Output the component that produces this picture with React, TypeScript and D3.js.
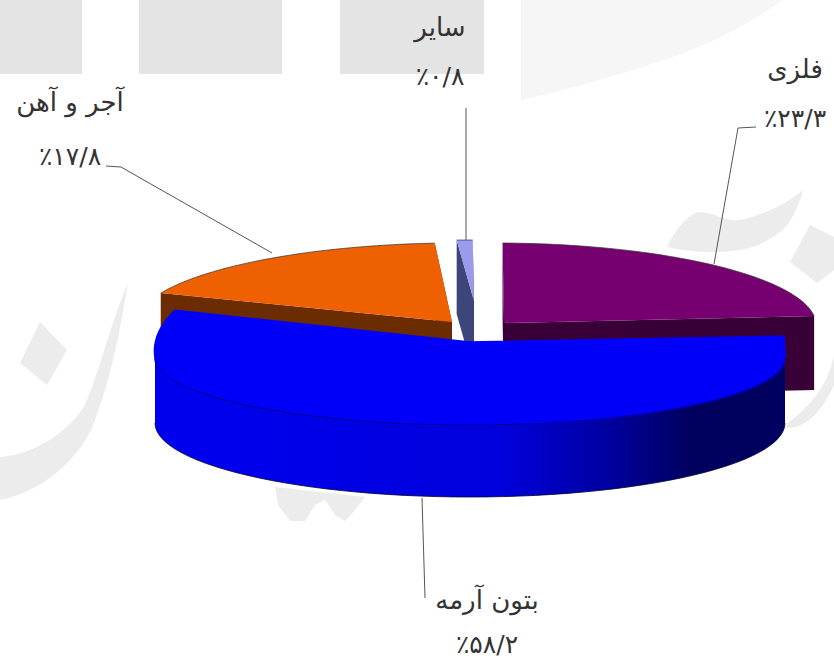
import React from 'react';
import * as d3 from 'd3';

const categories = ['بتون آرمه', 'آجر و آهن', 'سایر', 'فلزی'];
const shares = [58.2, 17.8, 0.8, 23.3];
const percentLabels = ['٪۵۸/۲', '٪۱۷/۸', '٪۰/۸', '٪۲۳/۳'];

const width = 834;
const height = 663;
const DEG = Math.PI / 180;

// pie angles from d3, clockwise from 12 o'clock, rotated so the big slice starts near 3 o'clock
const pie = d3.pie<number>().sort(null).startAngle(85 * DEG).endAngle(445 * DEG);
const arcs = pie(shares);

type Geo = { ax: number; ay: number; rx: number; ry: number; cy: number; ky: number };
const SKEW_X = 8;
const DEPTH = 74;

// apex (ax, ay) is where the exploded slice comes to a point
const geo: Geo[] = [
  { ax: 470, ay: 342, rx: 315, ry: 67, cy: 358, ky: 0 },
  { ax: 452, ay: 322, rx: 316, ry: 79, cy: 322, ky: -4 },
  { ax: 474, ay: 301, rx: 320, ry: 61, cy: 301, ky: 0 },
  { ax: 504, ay: 323, rx: 312, ry: 80, cy: 323, ky: 0 },
];

const rimPoint = (g: Geo, a: number, skew = SKEW_X): [number, number] => {
  const t = a - Math.PI / 2;
  return [
    g.ax + g.rx * Math.cos(t) + skew * Math.sin(t),
    g.cy + g.ry * Math.sin(t) + g.ky * Math.cos(t),
  ];
};

const rim = (g: Geo, a0: number, a1: number, n = 60, skew = SKEW_X) =>
  d3.range(n + 1).map(i => rimPoint(g, a0 + ((a1 - a0) * i) / n, skew));

const line = d3.line();
const down = (p: [number, number], d: number): [number, number] => [p[0], p[1] + d];

const Slice = ({ i, face, wall }: { i: number; face: string; wall: string }) => {
  const g = geo[i];
  const { startAngle: a0, endAngle: a1 } = arcs[i];
  const apex: [number, number] = [g.ax, g.ay];
  const edge = rim(g, a0, a1);
  const first = edge[0];
  const last = edge[edge.length - 1];
  const cutA = [first, apex, down(apex, DEPTH), down(first, DEPTH)] as [number, number][];
  const cutB = [last, apex, down(apex, DEPTH), down(last, DEPTH)] as [number, number][];
  return (
    <g>
      <path d={line(cutA) ?? ''} fill={wall} />
      <path d={line(cutB) ?? ''} fill={wall} />
      <path d={(line([apex, ...edge]) ?? '') + 'Z'} fill={face} />
      <path d={line(edge) ?? ''} fill="none" stroke="#333" strokeWidth={0.7} />
    </g>
  );
};

const BlueSlice = () => {
  const g = geo[0];
  const { startAngle: a0, endAngle: a1 } = arcs[0];
  const apex: [number, number] = [g.ax, g.ay];
  const right = 90 * DEG;
  const left = 270 * DEG;
  const front = rim(g, right, left, 60, 0);
  // both corners of the big slice rise much faster than the plain ellipse
  const rightShoulder = rim({ ...g, ry: 250 }, a0, right, 10, 0);
  const leftShoulder = rim({ ...g, ry: 116 }, left, a1, 16, 0).map(
    (p, k): [number, number] => [p[0] - 8 * (k / 16), p[1]],
  );
  const bottom = rim({ ...g, cy: 423, ry: 74 }, right, left, 60, 0);
  const wallPath = [...front.slice().reverse(), ...bottom];
  return (
    <g>
      <path d={(line(wallPath) ?? '') + 'Z'} fill="url(#blueSide)" />
      <path d={line(bottom) ?? ''} fill="none" stroke="#000030" strokeWidth={0.8} />
      <path
        d={(line([apex, ...rightShoulder, ...front, ...leftShoulder]) ?? '') + 'Z'}
        fill="#0000fa"
        stroke="#0000fa"
        strokeWidth={1.5}
        strokeLinejoin="round"
      />
      <path d={line(front) ?? ''} fill="none" stroke="#000088" strokeWidth={1} />
    </g>
  );
};

const leaders: [number, number][][] = [
  [[422, 498], [425, 598]],
  [[106, 166], [121, 167], [272, 253]],
  [[466, 108], [466, 240]],
  [[756, 127], [738, 128], [714, 264]],
];

const labelPos = [
  { x: 487, name: 601, pct: 646 },
  { x: 70, name: 103, pct: 158 },
  { x: 440, name: 28, pct: 78 },
  { x: 795, name: 70, pct: 120 },
];

export default function App() {
  return (
    <svg
      width={width}
      height={height}
      viewBox={`0 0 ${width} ${height}`}
      style={{ position: 'absolute', left: 0, top: 0, background: '#fff' }}
    >
      <defs>
        <linearGradient id="blueSide" x1="0" x2="1" y1="0" y2="0">
          <stop offset="0" stopColor="#0000f0" />
          <stop offset="0.55" stopColor="#0000dc" />
          <stop offset="0.72" stopColor="#0000a0" />
          <stop offset="0.85" stopColor="#00005e" />
          <stop offset="1" stopColor="#000060" />
        </linearGradient>
      </defs>

      {/* faint watermark behind the chart */}
      <g fill="#e4e4e4">
        <rect x={0} y={0} width={82} height={74} />
        <rect x={139} y={0} width={143} height={74} />
        <rect x={340} y={0} width={144} height={74} />
      </g>
      <path d="M521,0 L782,0 C750,25 700,50 640,68 C600,80 560,92 521,100 Z" fill="#f6f6f6" />
      <g fill="#ececec">
        <path d="M667,247 C675,230 685,218 697,212 C715,212 725,222 740,220 C765,214 785,205 803,190 C798,210 790,222 783,230 C770,240 755,248 740,250 C715,254 690,252 667,247 Z" />
        <path d="M790,262 L810,225 L834,237 L834,270 L817,283 Z" />
        <path d="M834,353 C832,375 815,405 787,423 L787,428 C810,428 825,405 834,385 Z" />
        <path d="M20,363 L40,322 L67,350 L47,385 Z" />
        <path d="M128,283 C120,330 112,375 95,420 C85,450 50,490 0,500 L0,457 C35,455 70,430 85,405 C100,370 110,325 128,283 Z" />
        <path d="M275,487 L365,497 L355,510 L345,521 L335,515 L325,500 L315,505 L305,521 L290,521 L278,505 Z" />
      </g>

      <Slice i={1} face="#ee6000" wall="#6a2c00" />
      <Slice i={3} face="#770070" wall="#380036" />
      <Slice i={2} face="#9a9aee" wall="#3d4678" />
      <BlueSlice />

      {leaders.map((pts, i) => (
        <path key={i} d={line(pts) ?? ''} fill="none" stroke="#555" strokeWidth={1} />
      ))}

      <g fontFamily="'DejaVu Sans', sans-serif" fill="#333" textAnchor="middle">
        {categories.map((c, i) => (
          <g key={c}>
            <text x={labelPos[i].x} y={labelPos[i].name} fontSize={26} direction="rtl" dominantBaseline="middle">
              {c}
            </text>
            <text x={labelPos[i].x} y={labelPos[i].pct} fontSize={25} dominantBaseline="middle">
              {percentLabels[i]}
            </text>
          </g>
        ))}
      </g>
    </svg>
  );
}
